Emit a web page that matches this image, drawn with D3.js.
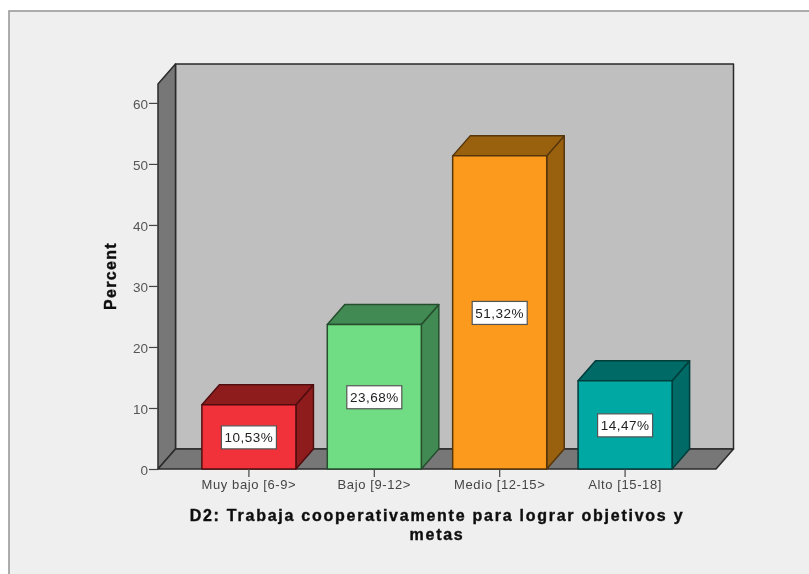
<!DOCTYPE html>
<html>
<head>
<meta charset="utf-8">
<script src="https://cdn.jsdelivr.net/npm/d3@7"></script>
<style>
    html, body { margin: 0; padding: 0; background: #fff; }
    svg { display: block; }
    text { font-family: "Liberation Sans", Arial, sans-serif; }
</style>
</head>
<body>
<script>
var categories = ["Muy bajo [6-9>", "Bajo [9-12>", "Medio [12-15>", "Alto [15-18]"];
var percents = [10.53, 23.68, 51.32, 14.47];
var percentLabels = ["10,53%", "23,68%", "51,32%", "14,47%"];
var frontColors = ["#f2303a", "#70dc84", "#fb9a1c", "#00a8a4"];
var shadeColors = ["#8e1a1e", "#428a52", "#99600f", "#006a66"];
var yTicks = [0, 10, 20, 30, 40, 50, 60];
var xTitle = ["D2: Trabaja cooperativamente para lograr objetivos y", "metas"];
var yTitle = "Percent";

var width = 809,
    height = 574;

// depth of the fake 3d box
var dx = 17.5,
    dy = -20;

var svg = d3.select("body").append("svg")
    .attr("width", width)
    .attr("height", height);

var defs = svg.append("defs");
defs.append("filter").attr("id", "soft")
    .append("feGaussianBlur").attr("stdDeviation", 0.55);

var root = svg.append("g").attr("filter", "url(#soft)");

// frame
root.append("rect")
    .attr("x", 9).attr("y", 11)
    .attr("width", width + 20).attr("height", height + 20)
    .attr("fill", "#efefef")
    .attr("stroke", "#9a9a9a")
    .attr("stroke-width", 1.6);

var x = d3.scaleBand()
    .domain(categories)
    .range([158, 716])
    .paddingInner(0.25)
    .paddingOuter(0.35);

var y = d3.scaleLinear()
    .domain([0, 63.1])
    .range([469, 84]);

var x0 = x.range()[0],
    x1 = x.range()[1],
    y0 = y(0),
    yTop = y(y.domain()[1]);

function poly(points, fill, stroke) {
    return root.append("polygon")
        .attr("points", points.map(function (p) { return p.join(","); }).join(" "))
        .attr("fill", fill)
        .attr("stroke", stroke)
        .attr("stroke-width", 1.5)
        .attr("stroke-linejoin", "round");
}

// back wall, side wall, floor
poly([[x0 + dx, yTop + dy], [x1 + dx, yTop + dy], [x1 + dx, y0 + dy], [x0 + dx, y0 + dy]], "#bfbfbf", "#2a2a2a");
poly([[x0, yTop], [x0 + dx, yTop + dy], [x0 + dx, y0 + dy], [x0, y0]], "#777777", "#2a2a2a");
poly([[x0, y0], [x0 + dx, y0 + dy], [x1 + dx, y0 + dy], [x1, y0]], "#777777", "#2a2a2a");

// bars
categories.forEach(function (c, i) {
    var l = x(c),
        r = l + x.bandwidth(),
        t = y(percents[i]);
    var edge = d3.color(shadeColors[i]).darker(1.6).formatHex();
    poly([[r, t], [r + dx, t + dy], [r + dx, y0 + dy], [r, y0]], shadeColors[i], edge);
    poly([[l, t], [l + dx, t + dy], [r + dx, t + dy], [r, t]], shadeColors[i], edge);
    poly([[l, t], [r, t], [r, y0], [l, y0]], frontColors[i], edge);
});

// value labels
categories.forEach(function (c, i) {
    var cx = x(c) + x.bandwidth() / 2,
        cy = (y(percents[i]) + y0) / 2;
    root.append("rect")
        .attr("x", cx - 27.5).attr("y", cy - 11)
        .attr("width", 55).attr("height", 23)
        .attr("fill", "#fff")
        .attr("stroke", "#555")
        .attr("stroke-width", 1.2);
    root.append("text")
        .attr("x", cx).attr("y", cy + 5.5)
        .attr("text-anchor", "middle")
        .attr("font-size", 13.5)
        .attr("letter-spacing", 0.5)
        .attr("fill", "#222")
        .text(percentLabels[i]);
});

// axes
var yAxis = root.append("g")
    .attr("transform", "translate(" + x0 + ",0)")
    .call(d3.axisLeft(y).tickValues(yTicks).tickSize(9).tickPadding(1));
yAxis.select(".domain").remove();
yAxis.selectAll("line").attr("stroke", "#444").attr("stroke-width", 1.2);
yAxis.selectAll("text")
    .attr("font-size", 13.5)
    .attr("fill", "#555")
    .attr("dy", "0.42em")
    .attr("font-family", "Liberation Sans");

var xAxis = root.append("g")
    .attr("transform", "translate(0," + y0 + ")")
    .call(d3.axisBottom(x).tickSize(8).tickPadding(3));
xAxis.select(".domain").remove();
xAxis.selectAll("line").attr("stroke", "#444").attr("stroke-width", 1.2);
xAxis.selectAll("text")
    .attr("font-size", 13)
    .attr("letter-spacing", 0.6)
    .attr("fill", "#444")
    .attr("font-family", "Liberation Sans");

// titles
root.selectAll(".xtitle")
    .data(xTitle)
    .enter().append("text")
    .attr("class", "xtitle")
    .attr("x", (x0 + x1) / 2)
    .attr("y", function (d, i) { return 521 + i * 19; })
    .attr("text-anchor", "middle")
    .attr("font-size", 16)
    .attr("font-weight", "bold")
    .attr("letter-spacing", 1.75)
    .attr("fill", "#111")
    .attr("stroke", "#111")
    .attr("stroke-width", 0.4)
    .text(function (d) { return d; });

root.append("text")
    .attr("transform", "translate(116,276) rotate(-90)")
    .attr("text-anchor", "middle")
    .attr("font-size", 16)
    .attr("font-weight", "bold")
    .attr("letter-spacing", 1.3)
    .attr("fill", "#111")
    .attr("stroke", "#111")
    .attr("stroke-width", 0.4)
    .text(yTitle);
</script>
</body>
</html>
